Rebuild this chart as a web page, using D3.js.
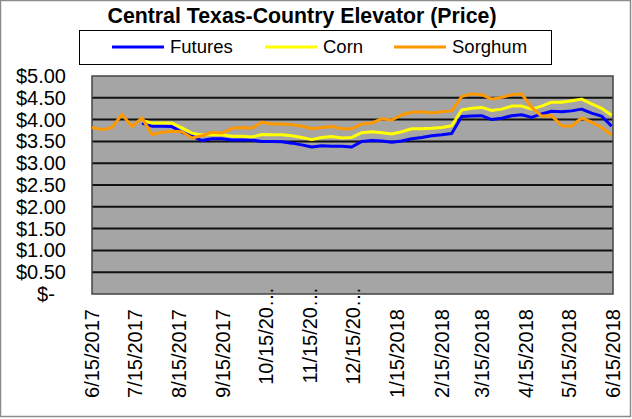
<!DOCTYPE html>
<html>
<head>
<meta charset="utf-8">
<script src="https://cdn.jsdelivr.net/npm/d3@7"></script>
<style>
  body { margin: 0; background: #fff; }
  text { font-family: "Liberation Sans", Arial, sans-serif; fill: #000; }
</style>
</head>
<body>
<svg id="chart" width="632" height="419"></svg>
<script>
// weekly observations, 6/15/2017 - 6/14/2018
const dates = [
  "2017-06-15","2017-06-22","2017-06-29","2017-07-06","2017-07-13","2017-07-20","2017-07-27",
  "2017-08-03","2017-08-10","2017-08-17","2017-08-24","2017-08-31","2017-09-07","2017-09-14",
  "2017-09-21","2017-09-28","2017-10-05","2017-10-12","2017-10-19","2017-10-26","2017-11-02",
  "2017-11-09","2017-11-16","2017-11-23","2017-11-30","2017-12-07","2017-12-14","2017-12-21",
  "2017-12-28","2018-01-04","2018-01-11","2018-01-18","2018-01-25","2018-02-01","2018-02-08",
  "2018-02-15","2018-02-22","2018-03-01","2018-03-08","2018-03-15","2018-03-22","2018-03-29",
  "2018-04-05","2018-04-12","2018-04-19","2018-04-26","2018-05-03","2018-05-10","2018-05-17",
  "2018-05-24","2018-05-31","2018-06-07","2018-06-14"
];

const futures = [null, null, null, null, null,
  3.92, 3.85, 3.85, 3.84, 3.71, 3.62, 3.52, 3.56, 3.56, 3.53,
  3.53, 3.53, 3.50, 3.50, 3.49, 3.46, 3.42, 3.37, 3.40, 3.39,
  3.39, 3.37, 3.50, 3.52, 3.51, 3.48, 3.51, 3.56, 3.59, 3.63,
  3.65, 3.68, 4.07, 4.08, 4.09, 4.00, 4.03, 4.09, 4.11, 4.05,
  4.13, 4.19, 4.18, 4.20, 4.24, 4.15, 4.08, 3.85];

const corn = [null, null, null, null, null,
  3.98, 3.92, 3.92, 3.92, 3.81, 3.69, 3.65, 3.66, 3.65, 3.62,
  3.62, 3.60, 3.66, 3.65, 3.65, 3.63, 3.59, 3.54, 3.59, 3.61,
  3.58, 3.59, 3.70, 3.72, 3.70, 3.67, 3.72, 3.79, 3.79, 3.80,
  3.82, 3.86, 4.22, 4.26, 4.28, 4.21, 4.24, 4.31, 4.31, 4.24,
  4.31, 4.40, 4.40, 4.43, 4.47, 4.36, 4.26, 4.10];

const sorghum = [3.82, 3.77, 3.82, 4.12, 3.84,
  4.04, 3.66, 3.71, 3.73, 3.72, 3.58, 3.63, 3.71, 3.69, 3.80,
  3.82, 3.80, 3.94, 3.90, 3.90, 3.88, 3.85, 3.79, 3.82, 3.84,
  3.79, 3.79, 3.90, 3.92, 4.02, 3.99, 4.11, 4.17, 4.18, 4.15,
  4.18, 4.20, 4.53, 4.59, 4.57, 4.47, 4.51, 4.57, 4.59, 4.28,
  4.08, 4.09, 3.86, 3.85, 4.04, 3.94, 3.82, 3.65];

const tickDates = [
  "2017-06-15","2017-07-15","2017-08-15","2017-09-15","2017-10-15","2017-11-15","2017-12-15",
  "2018-01-15","2018-02-15","2018-03-15","2018-04-15","2018-05-15","2018-06-15"
];

const yTicks = [0, 0.5, 1, 1.5, 2, 2.5, 3, 3.5, 4, 4.5, 5];

const seriesNames = ["Futures", "Corn", "Sorghum"];
const seriesColors = ["#0000ff", "#ffff00", "#ff9900"];

const parse = d3.timeParse("%Y-%m-%d");
const fmt = d3.timeFormat("%-m/%-d/%Y");

const plot = { left: 92, right: 613, top: 76, bottom: 294 };

const svg = d3.select("#chart");

// outer chart frame
svg.append("rect")
  .attr("x", 0.5).attr("y", 0.5)
  .attr("width", 630).attr("height", 416)
  .attr("fill", "#fff")
  .attr("stroke", "#8c8c8c")
  .attr("stroke-width", 1.5);

const x = d3.scaleTime()
  .domain([parse(tickDates[0]), parse(tickDates[tickDates.length - 1])])
  .range([plot.left, plot.right]);

const y = d3.scaleLinear()
  .domain([0, 5])
  .range([plot.bottom, plot.top]);

// plot area
svg.append("rect")
  .attr("x", plot.left).attr("y", plot.top)
  .attr("width", plot.right - plot.left)
  .attr("height", plot.bottom - plot.top)
  .attr("fill", "#a5a5a5");

// gridlines
svg.append("g")
  .selectAll("line")
  .data(yTicks.filter(d => d > 0 && d < 5))
  .join("line")
  .attr("x1", plot.left).attr("x2", plot.right)
  .attr("y1", d => y(d)).attr("y2", d => y(d))
  .attr("stroke", "#111")
  .attr("stroke-width", 2);

svg.append("rect")
  .attr("x", plot.left).attr("y", plot.top)
  .attr("width", plot.right - plot.left)
  .attr("height", plot.bottom - plot.top)
  .attr("fill", "none")
  .attr("stroke", "#444")
  .attr("stroke-width", 1.5);

// y axis labels
const yAxis = d3.axisLeft(y)
  .tickValues(yTicks)
  .tickSize(0)
  .tickPadding(0)
  .tickFormat(d => d === 0 ? "$-\u00a0\u00a0" : "$" + d.toFixed(2));

svg.append("g")
  .attr("transform", "translate(66,0)")
  .call(yAxis)
  .call(g => g.select(".domain").remove())
  .call(g => g.selectAll("text")
    .attr("font-size", 20)
    .attr("font-family", "Liberation Sans, Arial, sans-serif")
    .attr("fill", "#000"));

// x axis labels (rotated, long ones truncated like the original)
const xLabels = svg.append("g");
tickDates.forEach(s => {
  const d = parse(s);
  let label = fmt(d);
  let top = 309;
  if (label.length > 9) {
    label = label.slice(0, 8) + "\u2026";
    top = 287;
  }
  xLabels.append("text")
    .attr("transform", `translate(${x(d)},${top}) rotate(-90)`)
    .attr("text-anchor", "end")
    .attr("dy", "0.35em")
    .attr("font-size", 20)
    .text(label);
});

// series lines, in legend order
const allSeries = [futures, corn, sorghum];
const line = d3.line()
  .defined(d => d.v !== null)
  .x(d => x(d.date))
  .y(d => y(d.v));

allSeries.forEach((vals, i) => {
  const pts = dates.map((s, j) => ({ date: parse(s), v: vals[j] }));
  svg.append("path")
    .datum(pts)
    .attr("fill", "none")
    .attr("stroke", seriesColors[i])
    .attr("stroke-width", 3)
    .attr("stroke-linejoin", "round")
    .attr("d", line);
});

// title
svg.append("text")
  .attr("x", 302)
  .attr("y", 23)
  .attr("text-anchor", "middle")
  .attr("font-size", 21.3)
  .attr("font-weight", "bold")
  .text("Central Texas-Country Elevator (Price)");

// legend
svg.append("rect")
  .attr("x", 79.5).attr("y", 30.5)
  .attr("width", 472).attr("height", 34)
  .attr("fill", "#fff")
  .attr("stroke", "#000")
  .attr("stroke-width", 1);

const legendX = [112, 265, 394];
const legend = svg.append("g");
seriesNames.forEach((name, i) => {
  legend.append("line")
    .attr("x1", legendX[i]).attr("x2", legendX[i] + 52)
    .attr("y1", 47).attr("y2", 47)
    .attr("stroke", seriesColors[i])
    .attr("stroke-width", 3);
  legend.append("text")
    .attr("x", legendX[i] + 58)
    .attr("y", 47)
    .attr("dy", "0.35em")
    .attr("font-size", 18.5)
    .text(name);
});
</script>
</body>
</html>
